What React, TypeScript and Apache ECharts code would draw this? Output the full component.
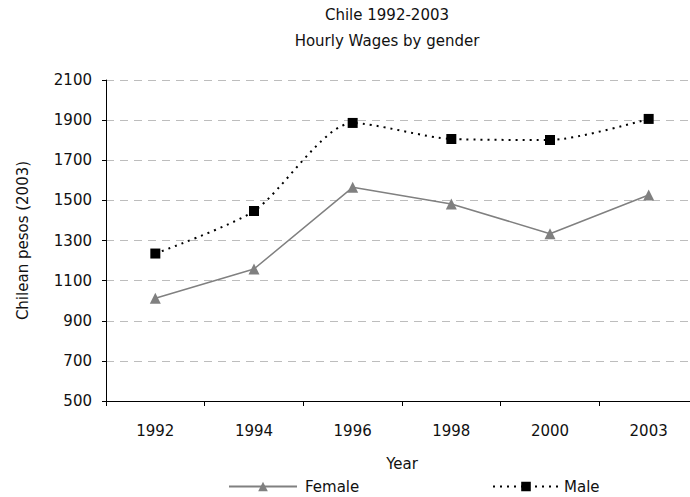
import React, { useEffect, useRef } from "react";
import * as echarts from "echarts";

const years = ["1992", "1994", "1996", "1998", "2000", "2003"];
const female = [1012, 1158, 1565, 1482, 1334, 1527];
const male = [1235, 1447, 1886, 1806, 1801, 1906];
const titleLines = ["Chile 1992-2003", "Hourly Wages by gender"];

const FONT = "DejaVu Sans, Verdana, sans-serif";

export default function App() {
  const ref = useRef<HTMLDivElement>(null);
  useEffect(() => {
    document.body.style.margin = "0";
    const chart = echarts.init(ref.current!, null, { renderer: "svg" });
    chart.setOption({
      animation: false,
      backgroundColor: "#ffffff",
      textStyle: { fontFamily: FONT },
      graphic: [
        {
          type: "text",
          x: 387,
          y: 15,
          style: { text: titleLines[0], font: `15px ${FONT}`, fill: "#111", textAlign: "center", textVerticalAlign: "middle" },
        },
        {
          type: "text",
          x: 387,
          y: 41,
          style: { text: titleLines[1], font: `15px ${FONT}`, fill: "#111", textAlign: "center", textVerticalAlign: "middle" },
        },
      ],
      grid: { left: 106, top: 80, right: 0, bottom: 96 },
      legend: [
        {
          left: 228,
          top: 479,
          padding: 0,
          itemWidth: 68,
          itemHeight: 12,
          itemGap: 6,
          data: ["Female"],
          textStyle: { fontFamily: FONT, fontSize: 15, color: "#111", padding: [0, 0, 0, 3] },
        },
        {
          left: 492,
          top: 479,
          padding: 0,
          itemWidth: 66,
          itemHeight: 12,
          data: ["Male"],
          textStyle: { fontFamily: FONT, fontSize: 15, color: "#111" },
        },
      ],
      xAxis: {
        type: "category",
        data: years,
        boundaryGap: true,
        name: "Year",
        nameLocation: "middle",
        nameGap: 55,
        nameTextStyle: { fontFamily: FONT, fontSize: 15, color: "#111" },
        axisLine: { lineStyle: { color: "#000", width: 1 } },
        axisTick: { show: true, length: 5, lineStyle: { color: "#000" } },
        axisLabel: { margin: 22, fontFamily: FONT, fontSize: 15, color: "#111" },
        splitLine: { show: false },
      },
      yAxis: {
        type: "value",
        min: 500,
        max: 2100,
        interval: 200,
        name: "Chilean pesos (2003)",
        nameLocation: "middle",
        nameGap: 76,
        nameRotate: 90,
        nameTextStyle: { fontFamily: FONT, fontSize: 15, color: "#111" },
        axisLine: { show: true, lineStyle: { color: "#000", width: 1 } },
        axisTick: { show: true, length: 4, lineStyle: { color: "#000" } },
        axisLabel: { margin: 14, fontFamily: FONT, fontSize: 15, color: "#111", formatter: (v: number) => String(v) },
        splitLine: { show: true, lineStyle: { color: "#bdbdbd", type: [8, 6], width: 1 } },
      },
      series: [
        {
          name: "Female",
          type: "line",
          data: female,
          symbol: "triangle",
          symbolSize: 11,
          itemStyle: { color: "#808080" },
          lineStyle: { color: "#808080", width: 1.5 },
        },
        {
          name: "Male",
          type: "line",
          data: male,
          smooth: 0.25,
          symbol: "rect",
          symbolSize: 10,
          itemStyle: { color: "#000" },
          lineStyle: { color: "#000", width: 2, type: [2, 5] },
        },
      ],
    });
    return () => chart.dispose();
  }, []);
  return (
    <div style={{ position: "fixed", left: 0, top: 0, width: 690, height: 497, overflow: "hidden" }}>
      <div ref={ref} style={{ width: 698, height: 497 }} />
    </div>
  );
}
